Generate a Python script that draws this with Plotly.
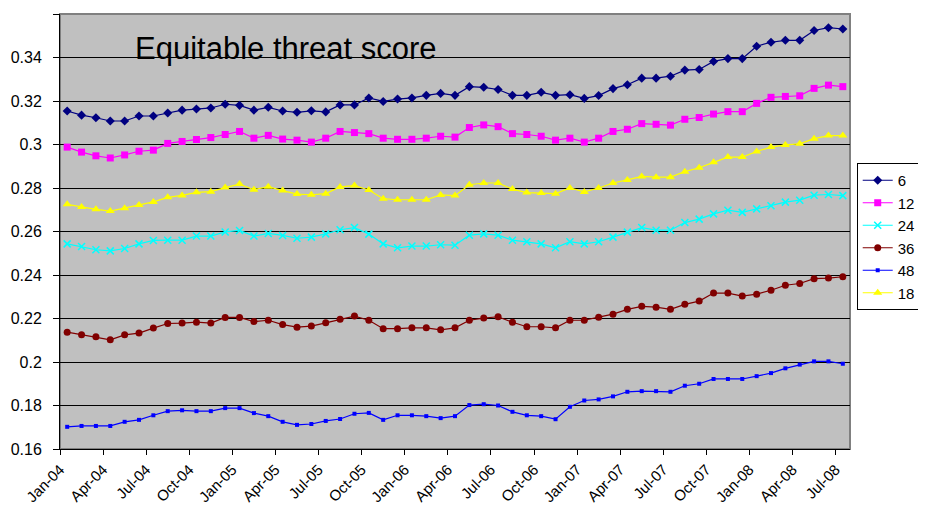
import plotly.graph_objects as go

# x positions: monthly categories Jan-04 .. Jul-08 (55 months)
months_idx = list(range(55))
tick_labels = ["Jan-04", "Apr-04", "Jul-04", "Oct-04", "Jan-05", "Apr-05", "Jul-05",
               "Oct-05", "Jan-06", "Apr-06", "Jul-06", "Oct-06", "Jan-07", "Apr-07",
               "Jul-07", "Oct-07", "Jan-08", "Apr-08", "Jul-08"]

s6 = [0.3154, 0.3135, 0.3123, 0.3108, 0.3108, 0.3131, 0.3131, 0.3145, 0.3158, 0.3163,
      0.3168, 0.3185, 0.3180, 0.3158, 0.3171, 0.3154, 0.3148, 0.3155, 0.3150, 0.3182,
      0.3182, 0.3214, 0.3198, 0.3209, 0.3214, 0.3226, 0.3235, 0.3226, 0.3266, 0.3263,
      0.3253, 0.3226, 0.3226, 0.3240, 0.3226, 0.3229, 0.3212, 0.3225, 0.3257, 0.3275,
      0.3305, 0.3305, 0.3314, 0.3342, 0.3345, 0.3382, 0.3395, 0.3395, 0.3452, 0.3470,
      0.3479, 0.3479, 0.3524, 0.3537, 0.3531]

s12 = [0.2988, 0.2965, 0.2948, 0.2938, 0.2952, 0.2969, 0.2974, 0.3005, 0.3014, 0.3023,
       0.3032, 0.3046, 0.3060, 0.3029, 0.3042, 0.3025, 0.3020, 0.3011, 0.3029, 0.3060,
       0.3055, 0.3050, 0.3029, 0.3024, 0.3024, 0.3029, 0.3038, 0.3034, 0.3078, 0.3090,
       0.3082, 0.3050, 0.3046, 0.3038, 0.3020, 0.3029, 0.3011, 0.3029, 0.3060, 0.3070,
       0.3096, 0.3093, 0.3089, 0.3116, 0.3124, 0.3140, 0.3151, 0.3151, 0.3189, 0.3217,
       0.3221, 0.3224, 0.3258, 0.3273, 0.3266]

s24 = [0.2543, 0.2531, 0.2516, 0.2511, 0.2522, 0.2543, 0.2559, 0.2560, 0.2560, 0.2579,
       0.2579, 0.2598, 0.2605, 0.2579, 0.2591, 0.2582, 0.2569, 0.2574, 0.2589, 0.2608,
       0.2618, 0.2588, 0.2543, 0.2525, 0.2533, 0.2533, 0.2539, 0.2537, 0.2583, 0.2589,
       0.2583, 0.2560, 0.2553, 0.2543, 0.2525, 0.2553, 0.2543, 0.2553, 0.2574, 0.2597,
       0.2618, 0.2606, 0.2606, 0.2641, 0.2657, 0.2681, 0.2698, 0.2688, 0.2704, 0.2718,
       0.2735, 0.2744, 0.2767, 0.2770, 0.2765]

s36 = [0.2137, 0.2125, 0.2116, 0.2102, 0.2125, 0.2133, 0.2156, 0.2177, 0.2179, 0.2183,
       0.2179, 0.2205, 0.2205, 0.2186, 0.2192, 0.2172, 0.2160, 0.2165, 0.2180, 0.2197,
       0.2211, 0.2192, 0.2153, 0.2153, 0.2157, 0.2157, 0.2148, 0.2157, 0.2192, 0.2202,
       0.2208, 0.2183, 0.2162, 0.2162, 0.2157, 0.2192, 0.2192, 0.2206, 0.2220, 0.2242,
       0.2256, 0.2252, 0.2242, 0.2265, 0.2280, 0.2317, 0.2317, 0.2303, 0.2312, 0.2330,
       0.2353, 0.2361, 0.2383, 0.2386, 0.2392]

s48 = [0.1702, 0.1706, 0.1706, 0.1706, 0.1725, 0.1734, 0.1755, 0.1774, 0.1778, 0.1774,
       0.1774, 0.1788, 0.1788, 0.1765, 0.1751, 0.1725, 0.1711, 0.1715, 0.1729, 0.1738,
       0.1762, 0.1766, 0.1734, 0.1755, 0.1755, 0.1751, 0.1742, 0.1751, 0.1802, 0.1806,
       0.1800, 0.1771, 0.1755, 0.1751, 0.1737, 0.1794, 0.1823, 0.1828, 0.1842, 0.1863,
       0.1866, 0.1866, 0.1863, 0.1891, 0.1900, 0.1922, 0.1922, 0.1922, 0.1935, 0.1949,
       0.1971, 0.1988, 0.2003, 0.2003, 0.1992]

s18 = [0.2725, 0.2713, 0.2702, 0.2694, 0.2707, 0.2722, 0.2736, 0.2757, 0.2766, 0.2780,
       0.2783, 0.2802, 0.2818, 0.2792, 0.2806, 0.2788, 0.2772, 0.2769, 0.2774, 0.2805,
       0.2811, 0.2791, 0.2751, 0.2746, 0.2746, 0.2746, 0.2768, 0.2765, 0.2815, 0.2823,
       0.2823, 0.2795, 0.2779, 0.2777, 0.2774, 0.2800, 0.2782, 0.2800, 0.2823, 0.2837,
       0.2853, 0.2850, 0.2850, 0.2875, 0.2893, 0.2918, 0.2942, 0.2942, 0.2968, 0.2988,
       0.2998, 0.3003, 0.3027, 0.3041, 0.3041]

series = [
    ("6", s6, "#000080", "diamond", 7),
    ("12", s12, "#FF00FF", "square", 7),
    ("24", s24, "#00FFFF", "x-thin", 7),
    ("36", s36, "#800000", "circle", 7),
    ("48", s48, "#0000FF", "square", 4),
    ("18", s18, "#FFFF00", "triangle-up", 8),
]

FONT = "Liberation Sans, Arial, sans-serif"

fig = go.Figure()
for name, vals, color, sym, size in series:
    marker = dict(symbol=sym, size=size, color=color)
    if sym == "x-thin":
        marker["line"] = dict(color=color, width=1.5)
    fig.add_trace(go.Scatter(
        x=months_idx, y=vals, name=name, mode="lines+markers",
        line=dict(color=color, width=1.2), marker=marker))

# page body adds an 8px margin: figure sized to fit the 926x524 window exactly
fig.update_layout(
    width=910, height=508,
    margin=dict(l=52, r=68, t=6, b=67, autoexpand=False),
    paper_bgcolor="white", plot_bgcolor="#C0C0C0",
    font=dict(family=FONT, size=14, color="black"),
    showlegend=True,
    legend=dict(x=1.0085, y=0.6575, xanchor="left", yanchor="top",
                bgcolor="white", bordercolor="black", borderwidth=1,
                font=dict(size=15), tracegroupgap=0, itemwidth=30),
    annotations=[dict(text="Equitable threat score", xref="paper", yref="paper",
                      x=0.0924, y=0.92, xanchor="left", yanchor="middle",
                      showarrow=False, font=dict(size=31, color="black", family=FONT))],
    shapes=[dict(type="rect", xref="x domain", yref="y domain", x0=0, x1=1, y0=0, y1=1,
                 line=dict(color="#808080", width=2), layer="below")],
)

fig.update_xaxes(
    range=[-0.5, 54.5], tickmode="array",
    tickvals=[i - 0.5 for i in range(0, 55, 3)], ticktext=tick_labels,
    tickangle=-45, ticks="outside", ticklen=5, tickcolor="black",
    showgrid=False, zeroline=False, showline=True, linecolor="black", linewidth=1,
    tickfont=dict(size=15))

fig.update_yaxes(
    range=[0.16, 0.36], tickmode="array",
    tickvals=[0.16, 0.18, 0.20, 0.22, 0.24, 0.26, 0.28, 0.30, 0.32, 0.34, 0.36],
    ticktext=["0.16", "0.18", "0.2", "0.22", "0.24", "0.26", "0.28", "0.3", "0.32", "0.34", "0.36"],
    ticks="outside", ticklen=6, tickcolor="black",
    showgrid=True, gridcolor="black", gridwidth=1, zeroline=False,
    showline=True, linecolor="black", linewidth=1, tickfont=dict(size=16),
    ticklabelstandoff=8)

fig.write_html("out.html")
